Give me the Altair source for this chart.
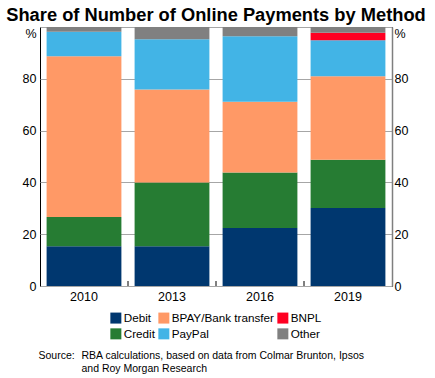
import altair as alt
import pandas as pd

years = ["2010", "2013", "2016", "2019"]
methods = ["Debit", "Credit", "BPAY/Bank transfer", "PayPal", "BNPL", "Other"]
debit = [15.3, 15.3, 22.4, 30.1]
credit = [11.3, 24.7, 21.4, 18.6]
bpay = [62.1, 35.9, 27.3, 32.3]
paypal = [9.5, 19.4, 25.3, 13.9]
bnpl = [0.0, 0.0, 0.0, 2.9]
other = [1.8, 4.7, 3.6, 2.2]
method_colors = ["#00376F", "#267C33", "#FF9966", "#42B4E6", "#FF0022", "#808080"]
y_ticks = [0, 20, 40, 60, 80, 100]
source_label = "Source:"
source_lines = "RBA calculations, based on data from Colmar Brunton, Ipsos\nand Roy Morgan Research"
title_text = "Share of Number of Online Payments by Method"

series = [debit, credit, bpay, paypal, bnpl, other]
rows = []
for mi, (m, vals) in enumerate(zip(methods, series)):
    for y, v in zip(years, vals):
        rows.append({"year": y, "method": m, "value": v, "order": mi})
df = pd.DataFrame(rows)

FONT = "Liberation Sans"

xenc = alt.X(
    "year:O",
    sort=years,
    scale=alt.Scale(paddingInner=0.15, paddingOuter=0.075),
    axis=alt.Axis(title=None, labelAngle=0, ticks=False, domain=False,
                  labelFontSize=12.5, labelPadding=4, labelColor="black"),
)

label_expr = "datum.value == 100 ? '%' : datum.label"
label_baseline = {"condition": {"test": "datum.value == 100", "value": "top"}, "value": "middle"}

bars = alt.Chart(df).mark_bar().encode(
    x=xenc,
    y=alt.Y("value:Q", stack="zero",
            scale=alt.Scale(domain=[0, 100], nice=False),
            axis=alt.Axis(title=None, orient="left", values=y_ticks, labelExpr=label_expr,
                          labelBaseline=label_baseline, labelFlush=False,
                          grid=True, gridColor="#A6A6A6", gridWidth=1, ticks=False,
                          domain=False, labelFontSize=12.5, labelPadding=4, labelColor="black")),
    color=alt.Color("method:N",
                    scale=alt.Scale(domain=methods, range=method_colors),
                    legend=alt.Legend(title=None, orient="none", legendX=70, legendY=285,
                                      direction="vertical", columns=3, symbolType="square",
                                      symbolSize=121, symbolStrokeWidth=0, labelFontSize=11.7,
                                      labelOffset=2, columnPadding=3, rowPadding=3,
                                      labelColor="black")),
    order=alt.Order("order:Q", sort="ascending"),
)

bars_right = alt.Chart(df).mark_bar(opacity=0).encode(
    x=alt.X("year:O", sort=years),
    y=alt.Y("value:Q", stack="zero",
            axis=alt.Axis(title=None, orient="right", values=y_ticks, labelExpr=label_expr,
                          labelBaseline=label_baseline, labelFlush=False,
                          grid=False, ticks=False, domain=True, domainColor="#7F7F7F",
                          domainWidth=1.5, labelFontSize=12.5, labelPadding=2, labelColor="black")),
    order=alt.Order("order:Q", sort="ascending"),
)

ticks = alt.Chart(pd.DataFrame({"year": years[1:]})).mark_rule(
    color="black", strokeWidth=1, xOffset=-6.6
).encode(
    x=alt.X("year:O", sort=years, bandPosition=0),
    y=alt.value(259),
    y2=alt.value(254),
)

title = alt.Chart(pd.DataFrame({"t": [title_text]})).mark_text(
    align="center", baseline="alphabetic", fontSize=18.3, font=FONT, fontWeight="bold",
    color="black"
).encode(text="t:N", x=alt.value(176), y=alt.value(-6.3))

src1 = alt.Chart(pd.DataFrame({"t": [source_label]})).mark_text(
    align="left", baseline="middle", fontSize=10.5, font=FONT, color="black"
).encode(text="t:N", x=alt.value(-1.5), y=alt.value(328.7))

src2 = alt.Chart(pd.DataFrame({"t": [source_lines]})).mark_text(
    align="left", baseline="middle", fontSize=10.5, font=FONT, color="black",
    lineBreak="\n", lineHeight=13.6
).encode(text="t:N", x=alt.value(41.5), y=alt.value(328.7))

chart = alt.layer(bars, bars_right, ticks, title, src1, src2).resolve_axis(
    y="independent"
).properties(
    width=352,
    height=259,
    padding={"left": 40, "top": 27, "right": 43, "bottom": 92},
    autosize=alt.AutoSizeParams(type="none"),
).configure(font=FONT).configure_view(stroke="black", strokeWidth=1)

chart.save("out.html", embed_options={"renderer": "svg", "actions": False})
